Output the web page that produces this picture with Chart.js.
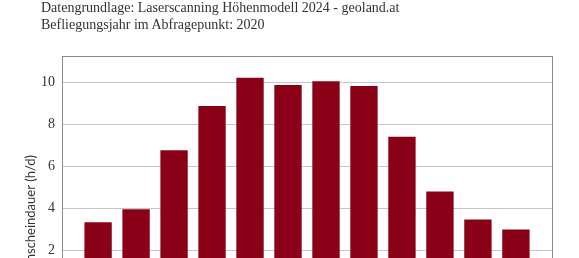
<!DOCTYPE html>
<html>
<head>
<meta charset="utf-8">
<script src="https://cdn.jsdelivr.net/npm/chart.js@4/dist/chart.umd.min.js"></script>
<style>
    html, body { margin: 0; padding: 0; background: #fff; overflow: hidden; }
    body { width: 579px; height: 258px; position: relative; }
    #kopf {
        position: absolute; left: 41px; top: -1px;
        font: 14px/17px "Liberation Serif", serif; color: #333; white-space: nowrap;
    }
    #box { position: absolute; left: 0; top: 0; width: 579px; height: 330px; }
</style>
</head>
<body>
<div id="box"><canvas id="grafik" width="579" height="330"></canvas></div>
<div id="kopf">Datengrundlage: Laserscanning Höhenmodell 2024 - geoland.at<br>Befliegungsjahr im Abfragepunkt: 2020</div>
<script>
// ========== DATEN ==========
const monate = ['Jan', 'Feb', 'Mär', 'Apr', 'Mai', 'Jun', 'Jul', 'Aug', 'Sep', 'Okt', 'Nov', 'Dez'];
const sonnenstunden = [3.35, 3.96, 6.77, 8.87, 10.22, 9.87, 10.05, 9.82, 7.41, 4.81, 3.48, 3.00];
const yAchse = { min: 0, max: 11.25, schritt: 2 };
const yTitel = 'Sonnenscheindauer (h/d)';

const farbeBalken = '#8a0017';
const farbeRahmen = '#8a8a8a';
const farbeGitter = '#c6c6c6';
const farbeText = '#333';

// Rahmen um die Zeichenfläche
const rahmenPlugin = {
    id: 'rahmen',
    beforeDatasetsDraw(chart) {
        const a = chart.chartArea;
        const ctx = chart.ctx;
        ctx.save();
        ctx.strokeStyle = farbeRahmen;
        ctx.lineWidth = 1;
        ctx.strokeRect(Math.round(a.left) + 0.5, Math.round(a.top) + 0.5,
            Math.round(a.right - a.left), Math.round(a.bottom - a.top));
        ctx.restore();
    }
};

// Achsentitel (gedreht)
const achsenTitelPlugin = {
    id: 'achsenTitel',
    afterDraw(chart) {
        const ctx = chart.ctx;
        ctx.save();
        ctx.translate(31, 155);
        ctx.rotate(-Math.PI / 2);
        ctx.font = '13px Lato, sans-serif';
        ctx.fillStyle = farbeText;
        ctx.textAlign = 'right';
        ctx.textBaseline = 'middle';
        ctx.fillText(yTitel, 0, 0);
        ctx.restore();
    }
};

const punkte = sonnenstunden.map((v, i) => ({ x: i + 1, y: v }));

new Chart(document.getElementById('grafik'), {
    type: 'bar',
    data: {
        datasets: [{
            label: yTitel,
            data: punkte,
            backgroundColor: farbeBalken,
            borderWidth: 0,
            barPercentage: 0.72,
            categoryPercentage: 1
        }]
    },
    options: {
        responsive: false,
        animation: false,
        layout: { padding: { top: 56, right: 27, left: 0, bottom: 0 } },
        plugins: {
            legend: { display: false },
            tooltip: { enabled: false }
        },
        scales: {
            x: {
                type: 'linear',
                min: 0.05,
                max: 12.95,
                offset: false,
                grid: { display: false, offset: false },
                border: { display: false },
                afterFit: s => { s.height = 37.4; },
                ticks: {
                    stepSize: 1,
                    includeBounds: false,
                    color: farbeText,
                    font: { family: 'Liberation Serif', size: 14 },
                    callback: v => monate[v - 1] || ''
                }
            },
            y: {
                min: yAchse.min,
                max: yAchse.max,
                grid: { color: farbeGitter, lineWidth: 1, drawTicks: false },
                border: { display: false },
                afterFit: s => { s.width = 62; },
                ticks: {
                    stepSize: yAchse.schritt,
                    includeBounds: false,
                    padding: 7,
                    color: farbeText,
                    font: { family: 'Liberation Serif', size: 14 }
                }
            }
        }
    },
    plugins: [rahmenPlugin, achsenTitelPlugin]
});
</script>
</body>
</html>
